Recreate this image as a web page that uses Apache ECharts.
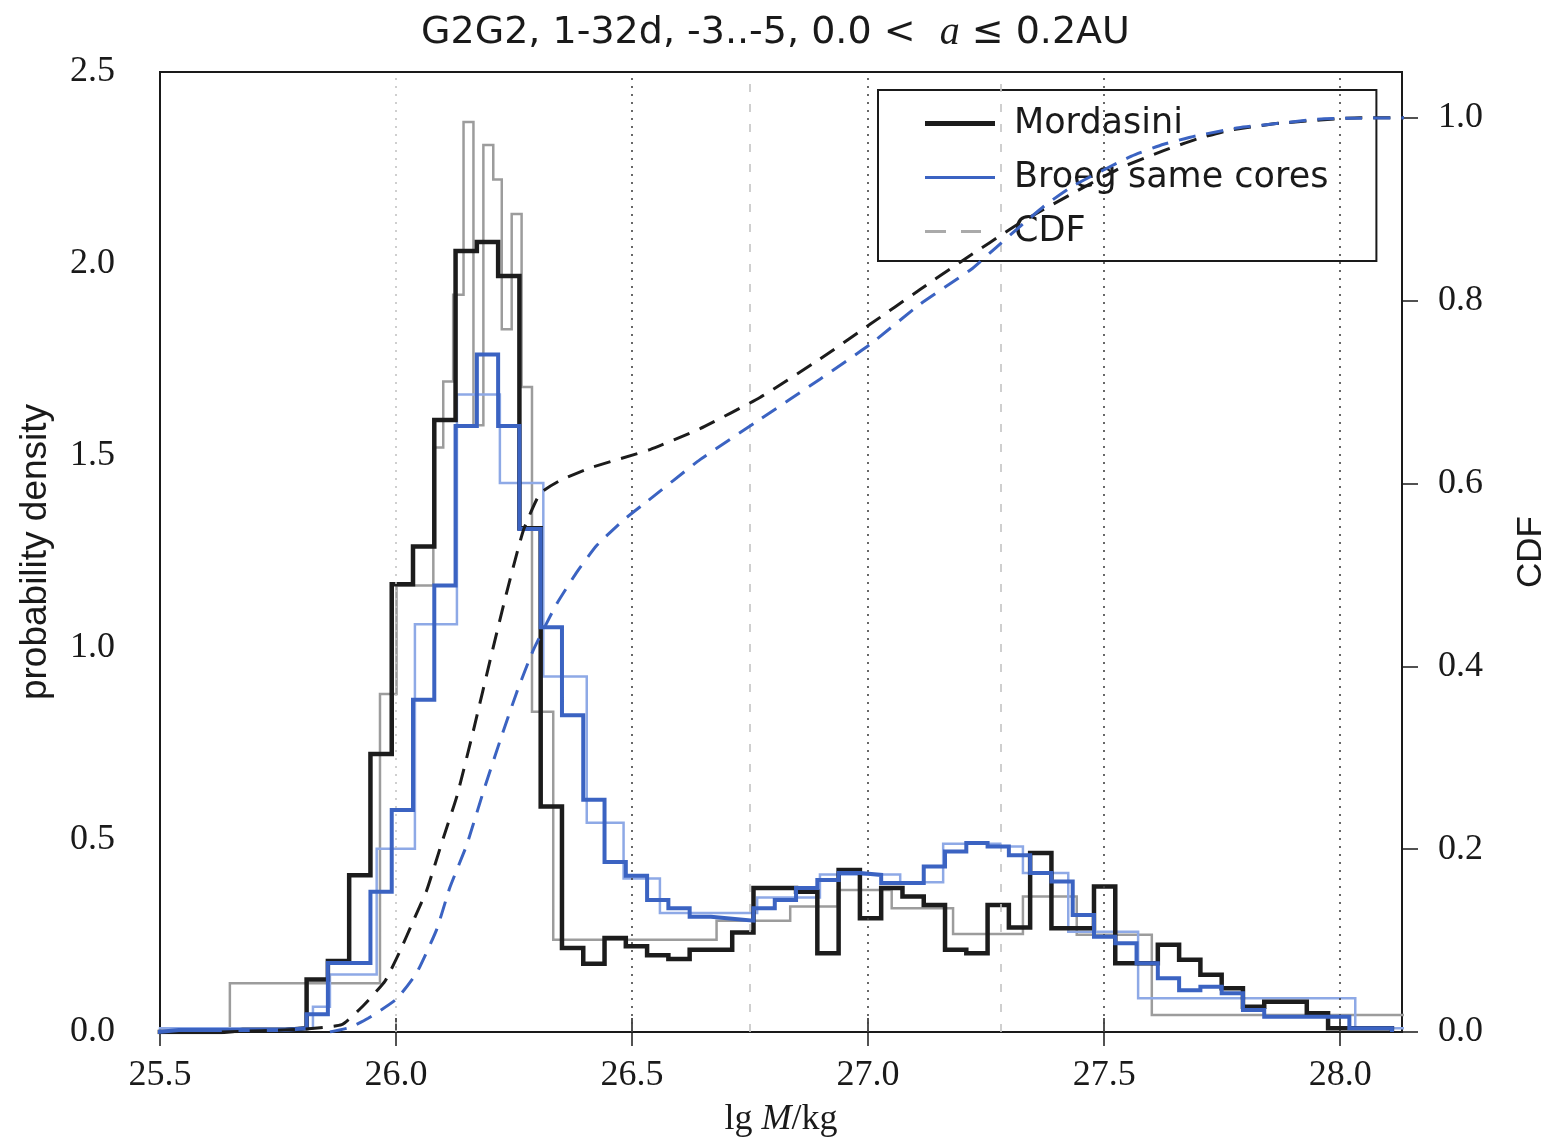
<!DOCTYPE html>
<html><head><meta charset="utf-8">
<script src="https://cdn.jsdelivr.net/npm/echarts@6/dist/echarts.min.js"></script>
<style>html,body{margin:0;padding:0;background:#fff}#c{width:1551px;height:1144px}</style>
</head><body><div id="c"></div>
<script>
// ---- data (lg M/kg) ----
const binStart = 25.495;
const binWidth = 0.04508;
const mordasiniThick = [0,0,0,0.005,0.005,0.005,0.01,0.137,0.185,0.408,0.724,1.166,1.264,1.594,2.034,2.057,1.969,1.312,0.587,0.219,0.178,0.245,0.223,0.200,0.190,0.214,0.214,0.259,0.375,0.375,0.365,0.205,0.422,0.296,0.375,0.353,0.331,0.214,0.205,0.331,0.272,0.466,0.270,0.270,0.379,0.179,0.179,0.227,0.188,0.149,0.114,0.066,0.079,0.079,0.049,0.010,0.010,0.010];
const broegThick = [0.005,0.005,0.005,0.005,0.005,0.005,0.01,0.046,0.18,0.18,0.365,0.578,0.865,1.163,1.578,1.764,1.578,1.31,1.054,0.825,0.605,0.443,0.407,0.344,0.322,0.30,0.295,0.29,0.322,0.344,0.375,0.396,0.414,0.409,0.388,0.388,0.431,0.47,0.492,0.483,0.46,0.414,0.392,0.305,0.248,0.231,0.179,0.14,0.109,0.118,0.101,0.057,0.04,0.04,0.04,0.04,0.01,0.01];
const mordasiniThinEdges = [25.648,25.966,26.001,26.079,26.100,26.121,26.143,26.164,26.185,26.206,26.224,26.245,26.266,26.288,26.333,26.679,26.835,26.936,27.050,27.180,27.328,27.442,27.601,28.2];
const mordasiniThinValues = [0.127,0.88,1.163,1.522,1.694,1.92,2.37,1.58,2.31,2.22,1.83,2.13,1.68,0.834,0.24,0.29,0.327,0.37,0.322,0.255,0.353,0.253,0.044];
const broegThinEdges = [25.5,25.824,25.860,25.959,26.040,26.129,26.220,26.312,26.404,26.482,26.559,26.765,26.898,27.068,27.159,27.280,27.328,27.424,27.572,28.032,28.2];
const broegThinValues = [0.01,0.066,0.15,0.477,1.062,1.66,1.43,0.926,0.545,0.40,0.31,0.35,0.41,0.39,0.49,0.483,0.414,0.261,0.088,0.01];
const cdfMordasiniX = [25.631,25.797,25.885,25.931,25.977,26.008,26.037,26.065,26.100,26.129,26.164,26.199,26.235,26.270,26.305,26.347,26.411,26.538,26.644,26.771,26.898,27.004,27.110,27.195,27.322,27.436,27.534,27.626,27.698,27.763,27.873,28.042,28.2];
const cdfMordasiniY = [0,0.003,0.008,0.029,0.056,0.088,0.122,0.155,0.212,0.258,0.330,0.406,0.482,0.549,0.589,0.603,0.617,0.637,0.660,0.694,0.736,0.774,0.812,0.842,0.885,0.918,0.945,0.964,0.977,0.986,0.994,1.0,1.0];
const cdfBroegX = [25.860,25.903,25.941,26.001,26.044,26.086,26.114,26.150,26.185,26.220,26.256,26.291,26.340,26.383,26.425,26.482,26.531,26.644,26.771,26.898,27.004,27.110,27.218,27.271,27.324,27.377,27.436,27.558,27.626,27.694,27.785,27.891,27.966,28.2];
const cdfBroegY = [0,0.005,0.015,0.036,0.065,0.112,0.158,0.205,0.263,0.318,0.372,0.418,0.468,0.503,0.532,0.56,0.580,0.626,0.670,0.714,0.752,0.796,0.834,0.858,0.882,0.905,0.926,0.958,0.971,0.98,0.989,0.995,0.999,1.0];
const xTicks = [25.5, 26.0, 26.5, 27.0, 27.5, 28.0];
const cdfTicks = [0, 0.2, 0.4, 0.6, 0.8, 1.0];
const gridDark = [26.5, 27.0, 27.5, 28.0];
const gridLight = [26.0];
const massMarks = [26.754, 27.278];

// ---- helpers ----
function histPts(edges, vals) {
  const p = [[edges[0], 0]];
  for (let i = 0; i < vals.length; i++) p.push([edges[i], vals[i]]);
  p.push([edges[vals.length], 0]);
  return p;
}
function fixedEdges(n) { const e = []; for (let i = 0; i <= n; i++) e.push(binStart + i * binWidth); return e; }
function zip(xs, ys) { return xs.map((x, i) => [x, ys[i]]); }

const C_BLACK = '#1c1c1c', C_BLUE = '#3b63c2', C_GRAY = '#9c9c9c', C_LBLUE = '#8ea9e6';
const serif = 'Liberation Serif', sans = 'Liberation Sans';

const markLines = [];
gridDark.forEach(v => markLines.push({xAxis: v, lineStyle: {color: '#444', type: [2, 6], width: 1.6}}));
gridLight.forEach(v => markLines.push({xAxis: v, lineStyle: {color: '#c4c4c4', type: [2, 6], width: 1.6}}));
massMarks.forEach(v => markLines.push({xAxis: v, lineStyle: {color: '#c4c4c4', type: [8, 12], width: 1.6}}));

function histSeries(name, data, color, width, z) {
  return {name, type: 'line', step: 'end', data, symbol: 'none', showSymbol: false, silent: true,
    lineStyle: {color, width, join: 'miter', cap: 'butt'}, itemStyle: {color}, z, animation: false};
}

const chart = echarts.init(document.getElementById('c'), null, {renderer: 'canvas'});
const gray = histSeries('Mordasini thin', histPts(mordasiniThinEdges, mordasiniThinValues), C_GRAY, 2.5, 2);
gray.markLine = {silent: true, symbol: 'none', label: {show: false}, data: markLines, animation: false};
chart.setOption({
  animation: false,
  backgroundColor: '#fff',
  title: {
    text: '{s|G2G2, 1-32d, -3..-5, 0.0 <  }{i|a}{s| ≤ 0.2AU}',
    left: 'center', top: 8,
    textStyle: {fontWeight: 'normal', rich: {
      s: {fontFamily: 'DejaVu Sans', fontSize: 38, fontWeight: 'normal', color: '#1a1a1a'},
      i: {fontFamily: serif, fontStyle: 'italic', fontWeight: 'normal', fontSize: 40, color: '#1a1a1a'}
    }}
  },
  grid: {left: 160, right: 149, top: 72, bottom: 112, show: true, borderColor: '#1a1a1a', borderWidth: 2,
    containLabel: false, outerBoundsMode: 'none'},
  legend: {
    orient: 'vertical', left: 878, top: 90, padding: [16, 48, 12, 47],
    itemWidth: 70, itemHeight: 20, itemGap: 19,
    borderColor: '#1a1a1a', borderWidth: 2, backgroundColor: 'transparent',
    textStyle: {fontFamily: 'DejaVu Sans', fontSize: 35, color: '#1a1a1a', padding: [0, 0, 0, 14]},
    selectedMode: false,
    data: [
      {name: 'Mordasini', icon: 'path://M0,0M70,20M0,7.5H70V12.5H0Z', itemStyle: {color: C_BLACK}},
      {name: 'Broeg same cores', icon: 'path://M0,0M70,20M0,8.5H70V11.5H0Z', itemStyle: {color: C_BLUE}},
      {name: 'CDF', icon: 'path://M0,0M70,20M0,8.5H21V11.5H0Z M36,8.5H56V11.5H36Z', itemStyle: {color: '#aaaaaa'}}
    ]
  },
  xAxis: [{
    type: 'value', min: 25.5, max: 28.131, interval: 0.5, position: 'bottom',
    name: '{s|lg }{i|M}{s|/kg}', nameLocation: 'middle', nameGap: 70,
    nameTextStyle: {rich: {s: {fontFamily: serif, fontSize: 36, color: '#1a1a1a'}, i: {fontFamily: serif, fontStyle: 'italic', fontSize: 36, color: '#1a1a1a'}}},
    axisLine: {show: true, lineStyle: {color: '#1a1a1a', width: 2}},
    axisTick: {show: true, inside: true, length: 14, customValues: xTicks, lineStyle: {color: '#1a1a1a', width: 1.5}},
    axisLabel: {fontFamily: serif, fontSize: 36, color: '#1a1a1a', margin: 26, customValues: xTicks, formatter: v => v.toFixed(1)},
    splitLine: {show: false}
  }, {
    type: 'value', min: 25.5, max: 28.131, interval: 0.5, position: 'top',
    axisLine: {show: true, lineStyle: {color: '#1a1a1a', width: 2}},
    axisTick: {show: true, inside: true, length: 14, customValues: xTicks, lineStyle: {color: '#1a1a1a', width: 1.5}},
    axisLabel: {show: false}, splitLine: {show: false}
  }],
  yAxis: [{
    type: 'value', min: 0, max: 2.5, interval: 0.5, position: 'left',
    name: 'probability density', nameLocation: 'middle', nameGap: 106, nameRotate: 90,
    nameTextStyle: {fontFamily: sans, fontSize: 37, color: '#1a1a1a'},
    axisLine: {show: true, lineStyle: {color: '#1a1a1a', width: 2}},
    axisTick: {show: false},
    axisLabel: {fontFamily: serif, fontSize: 36, color: '#1a1a1a', margin: 45, formatter: v => v.toFixed(1)},
    splitLine: {show: false}
  }, {
    type: 'value', min: 0, max: 1.05, interval: 0.2, position: 'right',
    name: 'CDF', nameLocation: 'middle', nameGap: 112, nameRotate: 90,
    nameTextStyle: {fontFamily: sans, fontSize: 35, color: '#1a1a1a'},
    axisLine: {show: true, lineStyle: {color: '#1a1a1a', width: 2}},
    axisTick: {show: true, inside: false, length: 16, customValues: cdfTicks, lineStyle: {color: '#1a1a1a', width: 1.5}},
    axisLabel: {fontFamily: serif, fontSize: 36, color: '#1a1a1a', margin: 36, customValues: cdfTicks,
      formatter: v => v.toFixed(1)},
    splitLine: {show: false}
  }],
  series: [
    gray,
    histSeries('Broeg thin', histPts(broegThinEdges, broegThinValues), C_LBLUE, 2.5, 3),
    histSeries('Mordasini', histPts(fixedEdges(mordasiniThick.length), mordasiniThick), C_BLACK, 4.5, 4),
    histSeries('Broeg same cores', histPts(fixedEdges(broegThick.length), broegThick), C_BLUE, 4, 5),
    {name: 'CDF', type: 'line', yAxisIndex: 1, data: zip(cdfMordasiniX, cdfMordasiniY), symbol: 'none', silent: true,
      smooth: 0.15, lineStyle: {color: C_BLACK, width: 3, type: [17, 11]}, itemStyle: {color: C_BLACK}, z: 6},
    {name: 'CDF Broeg', type: 'line', yAxisIndex: 1, data: zip(cdfBroegX, cdfBroegY), symbol: 'none', silent: true,
      smooth: 0.15, lineStyle: {color: C_BLUE, width: 3, type: [17, 11]}, itemStyle: {color: C_BLUE}, z: 6}
  ]
});
</script>
</body></html>
